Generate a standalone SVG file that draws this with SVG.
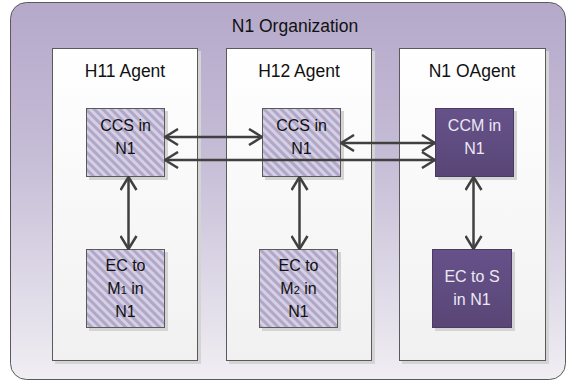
<svg xmlns="http://www.w3.org/2000/svg" width="576" height="383" viewBox="0 0 576 383">
<defs>
<linearGradient id="gOuter" x1="0" y1="0" x2="0" y2="1">
<stop offset="0" stop-color="#b5a9ca"/>
<stop offset="0.4" stop-color="#c5bcd6"/>
<stop offset="1" stop-color="#f0eef3"/>
</linearGradient>
<linearGradient id="gPanel" x1="0" y1="0" x2="0" y2="1">
<stop offset="0" stop-color="#ffffff"/>
<stop offset="1" stop-color="#f1f1f1"/>
</linearGradient>
<linearGradient id="gDark" x1="0" y1="0" x2="0" y2="1">
<stop offset="0" stop-color="#66528a"/>
<stop offset="1" stop-color="#594676"/>
</linearGradient>
<pattern id="hatch" patternUnits="userSpaceOnUse" width="6" height="6" patternTransform="rotate(-45)">
<rect width="6" height="6" fill="#d6d0e4"/>
<rect width="3" height="6" fill="#b0a7c9"/>
</pattern>
<marker id="arr" viewBox="0 0 16 18" refX="15" refY="9" markerWidth="16" markerHeight="18" markerUnits="userSpaceOnUse" orient="auto-start-reverse">
<path d="M2,1 L15,9 L2,17" fill="none" stroke="#404040" stroke-width="2.5"/>
</marker>
</defs>
<style>
.t{font-family:"Liberation Sans",Arial,sans-serif;fill:#111111;text-anchor:middle}
.lbl{font-size:17.5px}
.bx{font-size:16px}
.w{fill:#ece8f2}
.panel{fill:url(#gPanel);stroke:#5a5a5a;stroke-width:1}
.sh{fill:#d4d4d4}
.hb{fill:url(#hatch);stroke:#5a5a5a;stroke-width:1}
.db{fill:url(#gDark);stroke:#4a3c60;stroke-width:1}
.c{fill:none;stroke:#404040;stroke-width:2.5;marker-start:url(#arr);marker-end:url(#arr)}
</style>
<g id="org">
<rect x="10.5" y="2.5" width="555" height="377" rx="16" ry="16" fill="url(#gOuter)" stroke="#5a5a5a" stroke-width="1"/>
<text class="t lbl" x="295" y="32">N1 Organization</text>
</g>
<g id="h11">
<rect class="sh" x="55" y="51" width="146" height="313"/>
<rect class="panel" x="52.5" y="48.5" width="145" height="312"/>
<text class="t lbl" x="125" y="77">H11 Agent</text>
</g>
<g id="h12">
<rect class="sh" x="229" y="51" width="146" height="313"/>
<rect class="panel" x="226.5" y="48.5" width="145" height="312"/>
<text class="t lbl" x="299" y="77">H12 Agent</text>
</g>
<g id="oagent">
<rect class="sh" x="402" y="51" width="147" height="313"/>
<rect class="panel" x="399.5" y="48.5" width="146" height="312"/>
<text class="t lbl" x="472" y="77">N1 OAgent</text>
</g>
<g id="ccs11">
<rect class="sh" x="89" y="111" width="79" height="69"/>
<rect class="hb" x="86.5" y="108.5" width="78" height="68"/>
<text class="t bx" x="125.5" y="131">CCS in</text>
<text class="t bx" x="125.5" y="154">N1</text>
</g>
<g id="ccs12">
<rect class="sh" x="265" y="111" width="79" height="69"/>
<rect class="hb" x="262.5" y="108.5" width="78" height="68"/>
<text class="t bx" x="301.5" y="131">CCS in</text>
<text class="t bx" x="301.5" y="154">N1</text>
</g>
<g id="ccm">
<rect class="sh" x="438" y="111" width="79" height="69"/>
<rect class="db" x="435.5" y="108.5" width="78" height="68"/>
<text class="t bx w" x="474.5" y="131">CCM in</text>
<text class="t bx w" x="474.5" y="154">N1</text>
</g>
<g id="ec11">
<rect class="sh" x="89" y="252" width="79" height="79"/>
<rect class="hb" x="86.5" y="249.5" width="78" height="78"/>
<text class="t bx" x="125.5" y="271">EC to</text>
<text class="t bx" x="125.5" y="294">M<tspan font-size="11px">1</tspan> in</text>
<text class="t bx" x="125.5" y="317">N1</text>
</g>
<g id="ec12">
<rect class="sh" x="262" y="252" width="79" height="79"/>
<rect class="hb" x="259.5" y="249.5" width="78" height="78"/>
<text class="t bx" x="298.5" y="271">EC to</text>
<text class="t bx" x="298.5" y="294">M<tspan font-size="11px">2</tspan> in</text>
<text class="t bx" x="298.5" y="317">N1</text>
</g>
<g id="ecs">
<rect class="sh" x="435" y="252" width="80" height="79"/>
<rect class="db" x="432.5" y="249.5" width="79" height="78"/>
<text class="t bx w" x="472" y="282">EC to S</text>
<text class="t bx w" x="472" y="305">in N1</text>
</g>
<g id="connectors">
<line class="c" x1="165" y1="137" x2="262" y2="137"/>
<line class="c" x1="165" y1="160" x2="435" y2="160"/>
<line class="c" x1="341" y1="143" x2="435" y2="143"/>
<line class="c" x1="128.5" y1="177" x2="128.5" y2="249"/>
<line class="c" x1="299.5" y1="177" x2="299.5" y2="249"/>
<line class="c" x1="473.5" y1="177" x2="473.5" y2="249"/>
</g>
</svg>
